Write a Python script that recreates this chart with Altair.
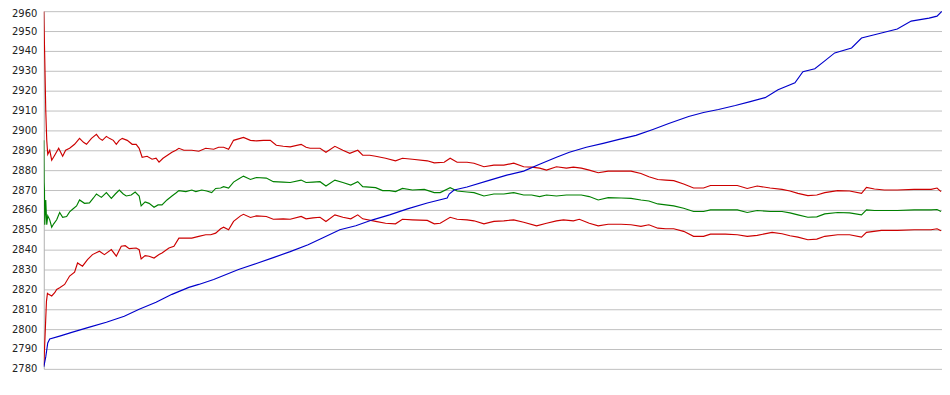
import altair as alt
import pandas as pd

# y-axis tick labels
y_ticks = list(range(2780, 2961, 10))

# (step, rating) samples
blue_series = [
    (0, 2781), (2, 2786), (4, 2793), (6, 2795), (16, 2796.5), (29, 2798.5), (46, 2801),
    (63, 2803.5), (81, 2806.5), (96, 2810), (113, 2813.5), (129, 2817.5), (146, 2821),
    (156, 2822.5), (171, 2825), (181, 2827), (196, 2830), (214, 2833), (231, 2836),
    (248, 2839), (266, 2842.5), (281, 2846), (298, 2850), (314, 2852), (331, 2855),
    (348, 2857.5), (366, 2860.5), (386, 2863.5), (406, 2866), (408, 2868), (413, 2870),
    (426, 2871.5), (449, 2875), (466, 2877.5), (483, 2879.5), (499, 2883), (516, 2886.5),
    (529, 2889), (546, 2891.5), (563, 2893.5), (579, 2895.5), (596, 2897.5), (613, 2900.5),
    (629, 2903.5), (649, 2907), (664, 2909), (679, 2910.5), (696, 2912.5), (711, 2914.5),
    (726, 2916.5), (739, 2920.5), (756, 2924), (764, 2929.5), (776, 2931), (786, 2935),
    (796, 2939), (813, 2941.5), (823, 2946.5), (839, 2948.5), (859, 2951), (873, 2955),
    (891, 2956.5), (899, 2957.5), (904, 2960),
]

upper_series = [
    (0, 2960), (1, 2936), (2, 2910), (3, 2895), (4, 2888), (6, 2890), (8, 2885),
    (11, 2887.5), (15, 2891), (19, 2887), (22, 2890), (26, 2891), (31, 2893), (36, 2896),
    (40, 2894), (43, 2893), (48, 2896), (53, 2898), (56, 2896), (59, 2895), (63, 2897),
    (66, 2896), (70, 2895), (73, 2893), (76, 2895), (79, 2896), (84, 2895), (89, 2893),
    (93, 2893), (96, 2891), (99, 2886.5), (104, 2887), (109, 2885.5), (113, 2886),
    (116, 2884), (120, 2886), (123, 2887), (129, 2889), (133, 2890), (136, 2891),
    (141, 2890), (149, 2890), (156, 2889.5), (163, 2891), (171, 2890.5), (176, 2891.5),
    (181, 2891.5), (186, 2890.5), (191, 2895), (201, 2896.5), (208, 2895), (214, 2894.7),
    (221, 2895), (228, 2895), (234, 2892.5), (241, 2892), (248, 2891.7), (259, 2893),
    (264, 2891.5), (268, 2891), (278, 2891), (284, 2889), (293, 2892), (301, 2890),
    (308, 2888.5), (316, 2890), (321, 2887.5), (328, 2887.5), (334, 2887), (344, 2886),
    (354, 2884.7), (361, 2886), (371, 2885.5), (386, 2884.7), (393, 2883.7), (403, 2884),
    (409, 2886), (416, 2884), (426, 2884), (433, 2883.5), (443, 2881.7), (453, 2882.5),
    (463, 2882.5), (473, 2883.5), (483, 2881.7), (491, 2881.5), (499, 2881), (506, 2880),
    (516, 2881.7), (526, 2881), (533, 2881.5), (541, 2881), (549, 2880), (558, 2878.7),
    (568, 2879.5), (581, 2879.5), (591, 2879.5), (601, 2878.3), (609, 2876.7),
    (618, 2875.3), (626, 2875), (634, 2874.7), (644, 2873), (654, 2871), (664, 2871),
    (671, 2872.3), (686, 2872.3), (698, 2872.3), (708, 2870.8), (718, 2872), (731, 2871),
    (743, 2870.3), (751, 2869.5), (759, 2868.3), (769, 2867.2), (778, 2867.5),
    (786, 2868.7), (799, 2869.7), (811, 2869.5), (823, 2868.3), (828, 2871.3),
    (836, 2870.5), (846, 2870), (859, 2870), (876, 2870.3), (893, 2870.3), (899, 2871),
    (903, 2869.2),
]

middle_series = [
    (0, 2895), (0.3, 2874), (0.7, 2870), (1, 2852.5), (2, 2865), (3, 2852.5), (4, 2857),
    (6, 2855), (8, 2851.3), (10, 2853), (13, 2855), (16, 2858.7), (19, 2856.3),
    (23, 2856.7), (26, 2859), (29, 2860.3), (33, 2862), (36, 2865), (41, 2863.3),
    (46, 2863.5), (50, 2866), (53, 2868), (58, 2866.3), (63, 2868.7), (68, 2865.8),
    (72, 2868), (76, 2870), (80, 2868), (83, 2867), (88, 2867.5), (92, 2869), (96, 2867),
    (98, 2862), (102, 2864), (106, 2863.3), (111, 2861.3), (115, 2862.5), (119, 2862.5),
    (124, 2865), (129, 2867), (133, 2868.5), (136, 2869.7), (143, 2869.2), (149, 2870),
    (153, 2869.2), (159, 2870), (164, 2869.5), (169, 2868.7), (173, 2870.8), (178, 2871),
    (181, 2871.7), (186, 2871), (191, 2874), (196, 2875.5), (201, 2877), (208, 2875.3),
    (214, 2876.3), (224, 2876), (231, 2874.2), (241, 2874), (248, 2873.8), (259, 2875),
    (264, 2873.8), (271, 2874), (278, 2874.2), (284, 2872), (293, 2875), (301, 2873.8),
    (309, 2872.5), (316, 2874.2), (321, 2871.7), (334, 2871.2), (341, 2869.7),
    (348, 2869.7), (354, 2869.2), (361, 2870.8), (371, 2870), (383, 2870.3),
    (393, 2868.7), (399, 2868.7), (409, 2871.2), (416, 2869.5), (426, 2869),
    (433, 2868.7), (443, 2867), (453, 2868), (463, 2868), (473, 2868.7), (483, 2867.5),
    (491, 2867.5), (499, 2866.7), (506, 2867.5), (516, 2867), (526, 2867.5),
    (533, 2867.5), (541, 2867.5), (549, 2866.7), (558, 2865), (568, 2866.2),
    (581, 2866), (591, 2865.8), (601, 2865), (609, 2864.5), (618, 2863), (626, 2862.5),
    (634, 2862), (644, 2860.8), (654, 2859.2), (664, 2859.2), (671, 2860), (686, 2860),
    (698, 2860), (708, 2858.7), (718, 2859.7), (731, 2859.2), (743, 2859.2),
    (751, 2858.5), (759, 2857.5), (769, 2856.3), (778, 2856.5), (786, 2858),
    (799, 2858.7), (811, 2858.5), (823, 2857.5), (828, 2860), (836, 2859.7),
    (846, 2859.7), (859, 2859.7), (876, 2860), (893, 2860), (899, 2860.2), (903, 2859.2),
]

lower_series = [
    (0, 2781.7), (0.5, 2786.7), (1.7, 2801.7), (2.7, 2814), (3.7, 2818), (5, 2817.5),
    (8, 2816.7), (11, 2818.3), (13, 2820), (16, 2820.8), (21, 2822.5), (26, 2826.7),
    (31, 2828.7), (34, 2833.3), (39, 2831.7), (44, 2835), (49, 2837.5), (56, 2839.2),
    (61, 2837.5), (68, 2840), (73, 2836.7), (78, 2841.7), (82, 2842), (86, 2840.5),
    (93, 2840.8), (96, 2840), (98, 2835.3), (102, 2837), (106, 2836.7), (111, 2835.8),
    (116, 2837.5), (119, 2838.3), (126, 2840.8), (131, 2841.7), (136, 2845.8),
    (143, 2845.8), (149, 2845.8), (156, 2846.7), (163, 2847.5), (168, 2847.5),
    (173, 2848.3), (178, 2850.5), (181, 2851.3), (186, 2850), (191, 2854.2), (198, 2857),
    (201, 2857.8), (208, 2856.2), (214, 2857), (224, 2856.7), (231, 2855.3),
    (241, 2855.5), (248, 2855.3), (259, 2856.7), (264, 2855.5), (271, 2856),
    (278, 2856.3), (284, 2854.2), (293, 2857.5), (301, 2856.3), (309, 2855.5),
    (316, 2857.5), (321, 2855.5), (334, 2854.2), (344, 2853.3), (354, 2853),
    (361, 2855.3), (371, 2855), (386, 2854.7), (393, 2853), (399, 2853.3), (409, 2856.3),
    (416, 2855.3), (426, 2855), (433, 2854.5), (443, 2853), (453, 2854.2), (463, 2854.5),
    (473, 2855), (483, 2853.8), (496, 2852), (506, 2853.3), (516, 2854.5), (523, 2855),
    (533, 2854.5), (539, 2855.3), (549, 2853.3), (558, 2852), (568, 2852.8),
    (581, 2852.8), (591, 2852.5), (601, 2851.7), (609, 2852.5), (618, 2850.8),
    (626, 2850.5), (634, 2850.5), (644, 2849.2), (654, 2846.7), (664, 2846.7),
    (671, 2847.8), (686, 2847.8), (698, 2847.5), (708, 2846.7), (718, 2847.2),
    (733, 2848.7), (743, 2848), (751, 2847), (759, 2846.3), (769, 2845), (778, 2845.3),
    (786, 2846.7), (799, 2847.5), (811, 2847.5), (823, 2846.3), (828, 2848.7),
    (843, 2849.7), (859, 2849.7), (876, 2850), (893, 2850), (899, 2850.5), (903, 2849.5),
]

series_names = ["upper", "middle", "lower", "blue"]
series_colors = ["#cc0000", "#008000", "#cc0000", "#0000cc"]
series_data = [upper_series, middle_series, lower_series, blue_series]

rows = []
for name, pts in zip(series_names, series_data):
    for step, val in pts:
        rows.append({"series": name, "step": step, "rating": val})
df = pd.DataFrame(rows)

x_scale = alt.Scale(domain=[0, 904], nice=False, zero=False)
y_scale = alt.Scale(domain=[2780, 2960], nice=False, zero=False)

lines = alt.Chart(df).mark_line(strokeWidth=1.15, clip=True).encode(
    x=alt.X("step:Q", scale=x_scale, axis=None),
    y=alt.Y(
        "rating:Q",
        scale=y_scale,
        axis=alt.Axis(
            values=y_ticks,
            title=None,
            grid=True,
            gridColor="#c0c0c0",
            gridWidth=1,
            domain=True,
            domainColor="#b0b0b0",
            ticks=False,
            labelPadding=7,
            labelFont="DejaVu Sans",
            labelFontSize=10,
            labelColor="#222222",
            labelOffset={"condition": {"test": "datum.value == 2960", "value": 2}, "value": 0},
            format="d",
        ),
    ),
    color=alt.Color(
        "series:N",
        scale=alt.Scale(domain=series_names, range=series_colors),
        legend=None,
    ),
    order=alt.Order("step:Q"),
    detail="series:N",
)

chart = lines.properties(
    width=904,
    height=360,
    autosize=alt.AutoSizeParams(type="none"),
    padding={"left": 36, "top": 2, "right": 0, "bottom": 10},
).configure_view(stroke=None).configure_axis(labelFlush=False)

chart.save("out.html", embed_options={"renderer": "svg", "actions": False})
